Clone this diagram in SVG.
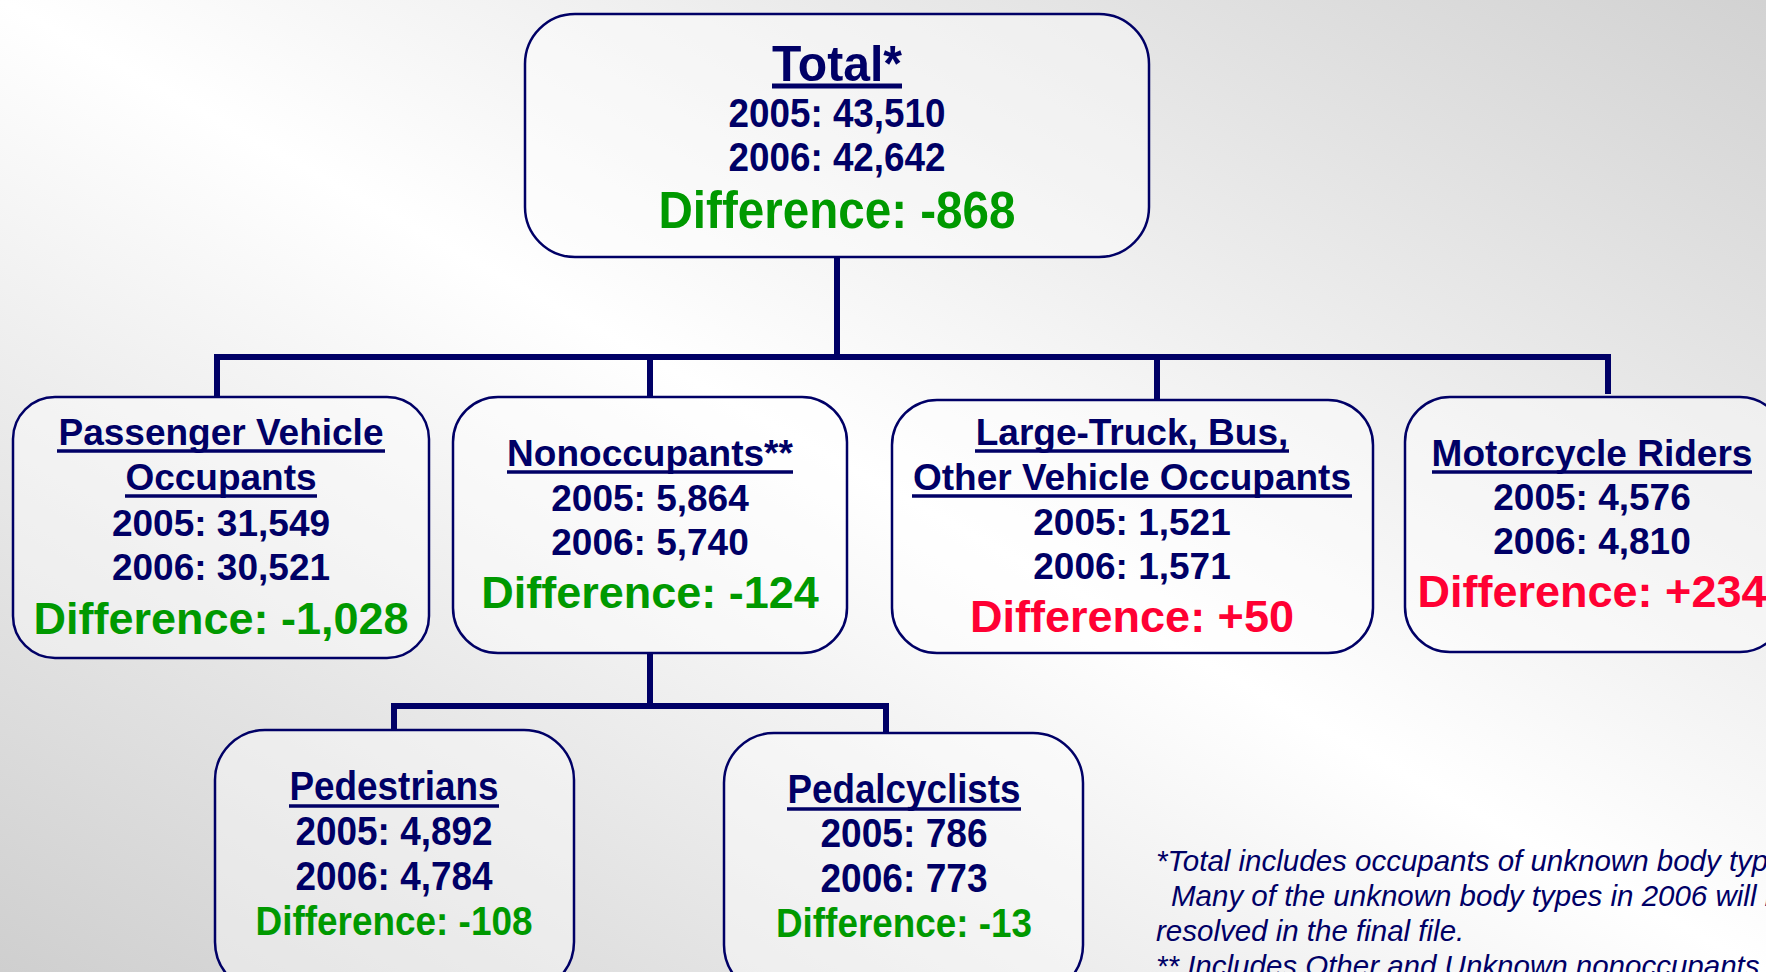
<svg xmlns="http://www.w3.org/2000/svg" width="1766" height="972" viewBox="0 0 1766 972">
<defs>
<linearGradient id="bg" gradientUnits="userSpaceOnUse" x1="473" y1="1231" x2="1293" y2="-259">
<stop offset="0" stop-color="#cfcfcf"/>
<stop offset="0.5" stop-color="#ffffff"/>
<stop offset="1" stop-color="#d2d2d2"/>
</linearGradient>
<style>
.box{fill:#ffffff;fill-opacity:0.4;stroke:#000066;stroke-width:2.5}
.conn{fill:none;stroke:#000066;stroke-width:6;stroke-linecap:butt;stroke-linejoin:miter}
.ul{stroke:#000066;stroke-width:3.5}
text{font-family:"Liberation Sans",Arial,sans-serif;font-weight:bold;text-anchor:middle}
.t{fill:#000066;font-size:37px}
.g{fill:#009900;font-size:45px}
.r{fill:#ff0033;font-size:45px}
.note{fill:#000066;font-weight:normal;font-style:italic;font-size:29.5px;text-anchor:start}
</style>
</defs>
<rect x="0" y="0" width="1766" height="972" fill="url(#bg)"/>

<g id="connectors">
<path class="conn" d="M837 257 V357"/>
<path class="conn" d="M217 397 V357 H1608 V394"/>
<path class="conn" d="M650 357 V397"/>
<path class="conn" d="M1157 357 V400"/>
<path class="conn" d="M650 653 V706"/>
<path class="conn" d="M394 730 V706 H886 V733"/>
</g>

<g id="total">
<rect class="box" x="525" y="14" width="624" height="243" rx="50" ry="50"/>
<text class="t" x="837" y="81" style="font-size:50px" textLength="130" lengthAdjust="spacingAndGlyphs">Total*</text>
<line class="ul" x1="772" y1="86" x2="902" y2="86" style="stroke-width:5"/>
<text class="t" x="837" y="127" style="font-size:40px" textLength="217" lengthAdjust="spacingAndGlyphs">2005: 43,510</text>
<text class="t" x="837" y="171" style="font-size:40px" textLength="217" lengthAdjust="spacingAndGlyphs">2006: 42,642</text>
<text class="g" x="837" y="228" style="font-size:51px" textLength="357" lengthAdjust="spacingAndGlyphs">Difference: -868</text>
</g>

<g id="passenger">
<rect class="box" x="13" y="397" width="416" height="261" rx="42" ry="42"/>
<text class="t" x="221" y="445">Passenger Vehicle</text>
<line class="ul" x1="57" y1="451" x2="385" y2="451"/>
<text class="t" x="221" y="490">Occupants</text>
<line class="ul" x1="125" y1="496" x2="317" y2="496"/>
<text class="t" x="221" y="536">2005: 31,549</text>
<text class="t" x="221" y="580">2006: 30,521</text>
<text class="g" x="221" y="634">Difference: -1,028</text>
</g>

<g id="nonoccupants">
<rect class="box" x="453" y="397" width="394" height="256" rx="45" ry="45"/>
<text class="t" x="650" y="466">Nonoccupants**</text>
<line class="ul" x1="507" y1="472" x2="793" y2="472"/>
<text class="t" x="650" y="511">2005: 5,864</text>
<text class="t" x="650" y="555">2006: 5,740</text>
<text class="g" x="650" y="608">Difference: -124</text>
</g>

<g id="largetruck">
<rect class="box" x="892" y="400" width="481" height="253" rx="45" ry="45"/>
<text class="t" x="1132" y="445">Large-Truck, Bus,</text>
<line class="ul" x1="975" y1="451" x2="1289" y2="451"/>
<text class="t" x="1132" y="490">Other Vehicle Occupants</text>
<line class="ul" x1="912" y1="496" x2="1352" y2="496"/>
<text class="t" x="1132" y="535">2005: 1,521</text>
<text class="t" x="1132" y="579">2006: 1,571</text>
<text class="r" x="1132" y="632">Difference: +50</text>
</g>

<g id="motorcycle">
<rect class="box" x="1405" y="397" width="380" height="255" rx="45" ry="45"/>
<text class="t" x="1592" y="466">Motorcycle Riders</text>
<line class="ul" x1="1432" y1="472" x2="1752" y2="472"/>
<text class="t" x="1592" y="510">2005: 4,576</text>
<text class="t" x="1592" y="554">2006: 4,810</text>
<text class="r" x="1592" y="607">Difference: +234</text>
</g>

<g id="pedestrians">
<rect class="box" x="215" y="730" width="359" height="262" rx="50" ry="50"/>
<text class="t" x="394" y="800" style="font-size:40px" textLength="209" lengthAdjust="spacingAndGlyphs">Pedestrians</text>
<line class="ul" x1="289" y1="806" x2="499" y2="806"/>
<text class="t" x="394" y="845" style="font-size:40px" textLength="197" lengthAdjust="spacingAndGlyphs">2005: 4,892</text>
<text class="t" x="394" y="890" style="font-size:40px" textLength="197" lengthAdjust="spacingAndGlyphs">2006: 4,784</text>
<text class="g" x="394" y="935" style="font-size:40px" textLength="277" lengthAdjust="spacingAndGlyphs">Difference: -108</text>
</g>

<g id="pedalcyclists">
<rect class="box" x="724" y="733" width="359" height="262" rx="50" ry="50"/>
<text class="t" x="904" y="803" style="font-size:40px" textLength="233" lengthAdjust="spacingAndGlyphs">Pedalcyclists</text>
<line class="ul" x1="787" y1="809" x2="1021" y2="809"/>
<text class="t" x="904" y="847" style="font-size:40px" textLength="167" lengthAdjust="spacingAndGlyphs">2005: 786</text>
<text class="t" x="904" y="892" style="font-size:40px" textLength="167" lengthAdjust="spacingAndGlyphs">2006: 773</text>
<text class="g" x="904" y="937" style="font-size:40px" textLength="256" lengthAdjust="spacingAndGlyphs">Difference: -13</text>
</g>

<g id="footnotes">
<text class="note" x="1156" y="871">*Total includes occupants of unknown body types.</text>
<text class="note" x="1171" y="906">Many of the unknown body types in 2006 will be</text>
<text class="note" x="1156" y="941">resolved in the final file.</text>
<text class="note" x="1156" y="976">** Includes Other and Unknown nonoccupants.</text>
</g>
</svg>
